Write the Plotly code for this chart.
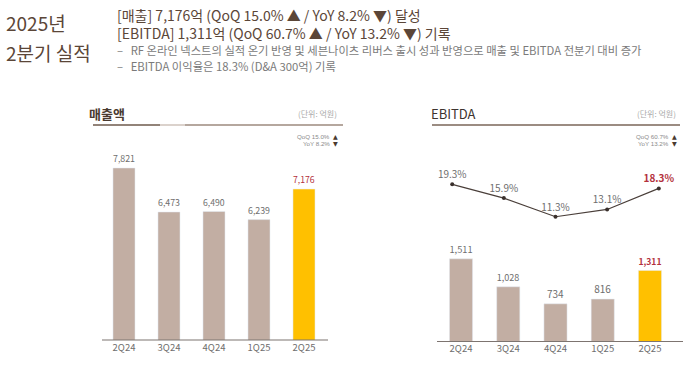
import plotly.graph_objects as go

W, H = 700, 370
FONT = "Noto Sans CJK KR"
SMALL = "Liberation Sans"

quarters = ["2Q24", "3Q24", "4Q24", "1Q25", "2Q25"]
revenue = [7821, 6473, 6490, 6239, 7176]
ebitda = [1511, 1028, 734, 816, 1311]
margin = [19.3, 15.9, 11.3, 13.1, 18.3]

title_left = "매출액"
title_right = "EBITDA"
unit_text = "(단위: 억원)"
rev_change = ["QoQ 15.0%", "YoY 8.2%"]
ebitda_change = ["QoQ 60.7%", "YoY 13.2%"]
change_arrows = ["▲", "▼"]
heading = ["2025년", "2분기 실적"]
summary = [
    "[매출] 7,176억 (QoQ 15.0% ▲ / YoY 8.2% ▼) 달성",
    "[EBITDA] 1,311억 (QoQ 60.7% ▲ / YoY 13.2% ▼) 기록",
]
bullets = [
    "–   RF 온라인 넥스트의 실적 온기 반영 및 세븐나이츠 리버스 출시 성과 반영으로 매출 및 EBITDA 전분기 대비 증가",
    "–   EBITDA 이익율은 18.3% (D&A 300억) 기록",
]

BAR = "#c2aea3"
HI = "#ffc000"
RED = "#b3313c"
GRAY = "#6e6e6e"
BROWN = "#5b4638"


def px(x):
    return x / W


def py(y):
    return 1 - y / H


n = len(quarters)
colors = [BAR] * (n - 1) + [HI]
lbl_colors = [GRAY] * (n - 1) + [RED]
rev_text = [f"{v:,}" for v in revenue]
eb_text = [f"{v:,}" for v in ebitda[:-1]] + [f"<b>{ebitda[-1]:,}</b>"]
mg_text = [f"{v:.1f}%" for v in margin[:-1]] + [f"<b>{margin[-1]:.1f}%</b>"]

fig = go.Figure()
fig.add_trace(go.Bar(x=quarters, y=revenue, marker_color=colors, text=rev_text,
                     textposition="outside", textfont=dict(size=10, color=lbl_colors, family=FONT),
                     cliponaxis=False, xaxis="x", yaxis="y", hoverinfo="skip"))
fig.add_trace(go.Bar(x=quarters, y=ebitda, marker_color=colors, text=eb_text,
                     textposition="outside", textfont=dict(size=10, color=lbl_colors, family=FONT),
                     cliponaxis=False, xaxis="x2", yaxis="y2", hoverinfo="skip"))
fig.add_trace(go.Scatter(x=quarters, y=margin, mode="lines+markers+text", text=mg_text,
                         textposition="top center",
                         textfont=dict(size=10, color=lbl_colors, family=FONT),
                         line=dict(color="#4a3f3a", width=1.2),
                         marker=dict(size=4, color="#3a302c"),
                         cliponaxis=False, xaxis="x3", yaxis="y3", hoverinfo="skip"))

top = 150
lb, rb = 340, 341.5
axcommon = dict(showgrid=False, zeroline=False, showline=False, ticks="",
                tickfont=dict(size=9.5, color=GRAY, family=FONT), fixedrange=True)
ycommon = dict(showgrid=False, zeroline=False, showline=False, showticklabels=False,
               fixedrange=True)

fig.update_layout(
    width=W, height=H, margin=dict(l=0, r=0, t=0, b=0),
    paper_bgcolor="white", plot_bgcolor="white", showlegend=False,
    bargap=0.51,
    font=dict(family=FONT),
    xaxis=dict(domain=[px(101.5), px(326.5)], anchor="y", **axcommon),
    yaxis=dict(domain=[py(lb), py(top)], range=[2551, 2551 + (lb - top) / 0.03264], **ycommon),
    xaxis2=dict(domain=[px(437.4), px(673.6)], anchor="y2", **axcommon),
    yaxis2=dict(domain=[py(rb), py(top)], range=[83, 83 + (rb - top) / 0.0579], **ycommon),
    xaxis3=dict(domain=[px(437.4), px(673.6)], anchor="y3", overlaying="x2", visible=False),
    yaxis3=dict(domain=[py(rb), py(top)], range=[-(rb - 262.5) / 4.05, (262.5 - top) / 4.05],
                overlaying="y2", **ycommon),
)

shapes = [
    dict(type="line", xref="paper", yref="paper", x0=px(102), x1=px(328), y0=py(lb), y1=py(lb),
         line=dict(color="#7d7470", width=1.2)),
    dict(type="line", xref="paper", yref="paper", x0=px(437), x1=px(683), y0=py(rb), y1=py(rb),
         line=dict(color="#7d7470", width=1.2)),
    # header underlines
    dict(type="line", xref="paper", yref="paper", x0=px(93), x1=px(160), y0=py(125), y1=py(125),
         line=dict(color="#6e5a4c", width=1.5)),
    dict(type="line", xref="paper", yref="paper", x0=px(160), x1=px(185), y0=py(125), y1=py(125),
         line=dict(color="#cfc3bb", width=1.5)),
    dict(type="line", xref="paper", yref="paper", x0=px(185), x1=px(343), y0=py(125), y1=py(125),
         line=dict(color="#9c8a7e", width=1.5)),
    dict(type="line", xref="paper", yref="paper", x0=px(432), x1=px(680), y0=py(125), y1=py(125),
         line=dict(color="#7a6658", width=1.5)),
]
fig.update_layout(shapes=shapes)

ann = []


def A(x, y, text, size, color, xanchor="left", family=FONT, **kw):
    ann.append(dict(x=px(x), y=py(y), xref="paper", yref="paper", text=text, showarrow=False,
                    xanchor=xanchor, yanchor="middle", borderpad=0,
                    font=dict(size=size, color=color, family=family), **kw))


A(5, 22, heading[0], 19, BROWN)
A(5, 52, heading[1], 19, BROWN)
A(116, 24.5, "<br>".join(summary), 14, BROWN, align="left")
A(116, 50, bullets[0], 11.3, "#7a7a7a")
A(116, 66, bullets[1], 11.3, "#7a7a7a")

A(88, 113, f"<b>{title_left}</b>", 13, "#4a3a30")
A(338, 114, unit_text, 8, "#a8a8a8", xanchor="right")
A(430, 113, title_right, 13, "#3e3430")
A(677, 114, unit_text, 8, "#a8a8a8", xanchor="right")

for i, yy in enumerate([136.2, 143.6]):
    A(331, yy, rev_change[i], 6.2, "#8a8a8a", xanchor="right", family=SMALL)
    A(338.5, yy, change_arrows[i], 6.2, "#4a3a30", xanchor="right", family="DejaVu Sans")
    A(670, yy, ebitda_change[i], 6.2, "#8a8a8a", xanchor="right", family=SMALL)
    A(677.5, yy, change_arrows[i], 6.2, "#4a3a30", xanchor="right", family="DejaVu Sans")

fig.update_layout(annotations=ann)
fig.write_html("out.html", post_script="document.body.style.margin='0';",
               config={"displayModeBar": False, "staticPlot": True})
